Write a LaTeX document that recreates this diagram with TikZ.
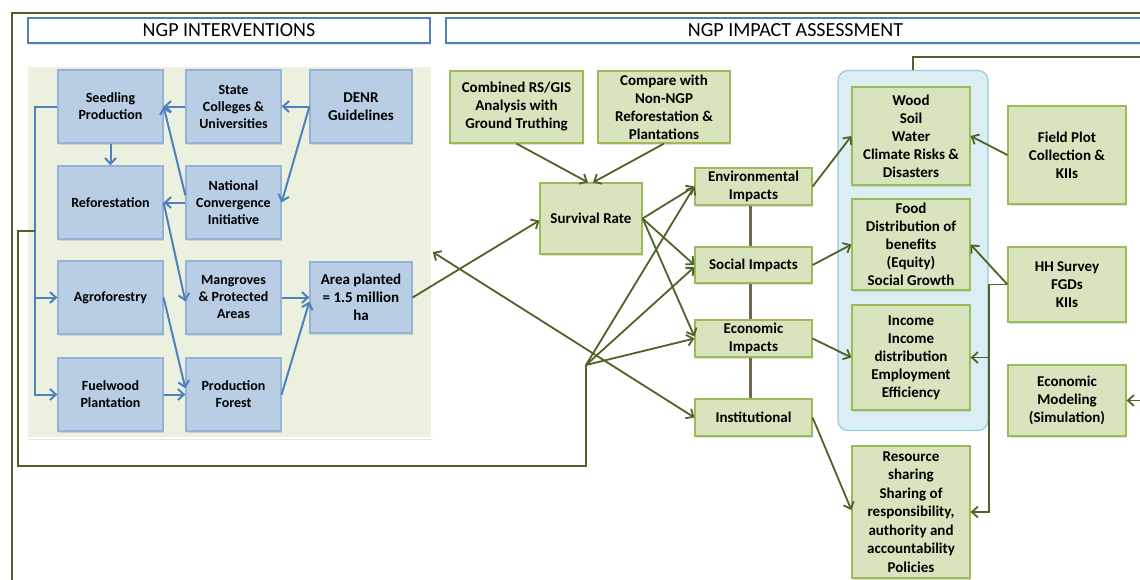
\documentclass[tikz,border=0pt]{standalone}
\usepackage{fontspec}
\setmainfont{Carlito}
\usetikzlibrary{arrows.meta,shadows,positioning}
\definecolor{oliveline}{HTML}{4F6228}
\definecolor{lineblue}{HTML}{4F81BD}
\definecolor{boxblue}{HTML}{95B3D7}
\definecolor{fillblue}{HTML}{B9CDE5}
\definecolor{boxgreen}{HTML}{9BBB59}
\definecolor{fillgreen}{HTML}{D7E4BD}
\definecolor{fillpanel}{HTML}{EBF1DE}
\definecolor{boxcyan}{HTML}{93CDDD}
\definecolor{fillcyan}{HTML}{DAEEF3}
\definecolor{taupe}{HTML}{6F684E}

\begin{document}
\begin{tikzpicture}[x=1pt, y=-1pt,
                    blue_box/.style={rectangle, draw=boxblue, fill=fillblue, line width=1.2pt, align=center, inner sep=1pt, minimum height=73pt, font=\bfseries\fontsize{14}{17}\selectfont, drop shadow={shadow xshift=1pt, shadow yshift=-1.5pt, opacity=0.25}},
                    green_box/.style={rectangle, draw=boxgreen, fill=fillgreen, line width=1.2pt, align=center, inner sep=1pt, font=\bfseries\fontsize{15}{18}\selectfont, drop shadow={shadow xshift=1pt, shadow yshift=-1.5pt, opacity=0.25}},
                    title_box/.style={rectangle, draw=lineblue, fill=white, line width=1.2pt, minimum height=25pt, inner sep=0pt, font=\fontsize{20}{24}\selectfont, drop shadow={shadow xshift=1pt, shadow yshift=-1.5pt, opacity=0.2}},
                    blue_arrow/.style={draw=lineblue, line width=2pt, -{Straight Barb[length=6pt,width=11pt]}},
                    green_arrow/.style={draw=oliveline, line width=1.8pt, -{Straight Barb[length=6pt,width=11pt]}},
                    green_both/.style={draw=oliveline, line width=1.8pt, {Straight Barb[length=6pt,width=11pt]}-{Straight Barb[length=6pt,width=11pt]}},
                    green_line/.style={draw=oliveline, line width=1.8pt},
                    link_line/.style={draw=taupe, line width=3pt}
                ]
    \clip (0,0) rectangle (1140,579);
    \fill[white] (0,0) rectangle (1140,579);

    \coordinate (ftr) at (1145,13);
    \coordinate (ftl) at (12,13);
    \coordinate (fbl) at (12,585);
    \draw[green_line] (ftr) -- (ftl) -- (fbl);

    \node[title_box, minimum width=402pt] (ngpint) at (229,30.5) {NGP INTERVENTIONS};
    \node[title_box, minimum width=699pt] (ngpimp) at (795.5,30.5) {NGP IMPACT ASSESSMENT};

    \node[rectangle, draw=white, fill=fillpanel, line width=1.5pt, minimum width=405pt, minimum height=372pt, drop shadow={shadow xshift=0.5pt, shadow yshift=-1.5pt, opacity=0.2}] (panel) at (229.5,252) {};
    \node[rectangle, rounded corners=10pt, draw=boxcyan, fill=fillcyan, line width=1.2pt, minimum width=150pt, minimum height=360pt] (outbox) at (913,250.5) {};

    \node[blue_box, minimum width=105pt] (seed) at (110.5,106.5) {Seedling\\Production};
    \node[blue_box, minimum width=95pt] (colleges) at (233.5,106.5) {State\\Colleges \&\\Universities};
    \node[blue_box, minimum width=102pt, font=\bfseries\fontsize{15}{18}\selectfont] (denr) at (361,106.5) {DENR\\Guidelines};
    \node[blue_box, minimum width=105pt] (refor) at (110.5,202.5) {Reforestation};
    \node[blue_box, minimum width=95pt] (ncon) at (233.5,202.5) {National\\Convergence\\Initiative};
    \node[blue_box, minimum width=105pt] (agro) at (110.5,297.5) {Agroforestry};
    \node[blue_box, minimum width=95pt] (mangr) at (233.5,297.5) {Mangroves\\\& Protected\\Areas};
    \node[blue_box, minimum width=102pt, minimum height=71pt, font=\bfseries\fontsize{15}{18}\selectfont] (area) at (361,297.5) {Area planted\\= 1.5 million\\ha};
    \node[blue_box, minimum width=105pt] (fuel) at (110.5,394.5) {Fuelwood\\Plantation};
    \node[blue_box, minimum width=95pt] (prod) at (233.5,394.5) {Production\\Forest};

    \node[green_box, minimum width=133pt, minimum height=72pt] (rsgis) at (516.5,107) {Combined RS/GIS\\Analysis with\\Ground Truthing};
    \node[green_box, minimum width=132pt, minimum height=72pt] (compare) at (664,107) {Compare with\\Non-NGP\\Reforestation \&\\Plantations};
    \node[green_box, minimum width=102pt, minimum height=71pt] (survival) at (591,218.5) {Survival Rate};
    \node[green_box, minimum width=117pt, minimum height=37pt] (env) at (753.5,186.5) {Environmental\\Impacts};
    \node[green_box, minimum width=117pt, minimum height=36pt] (social) at (753.5,265) {Social Impacts};
    \node[green_box, minimum width=117pt, minimum height=37pt] (econ) at (753.5,338.5) {Economic\\Impacts};
    \node[green_box, minimum width=117pt, minimum height=37pt] (inst) at (753.5,417.5) {Institutional};

    \node[green_box, minimum width=118pt, minimum height=98pt] (wood) at (911,136) {Wood\\Soil\\Water\\Climate Risks \&\\Disasters};
    \node[green_box, minimum width=118pt, minimum height=91pt] (food) at (911,244.5) {Food\\Distribution of\\benefits\\(Equity)\\Social Growth};
    \node[green_box, minimum width=118pt, minimum height=105pt] (income) at (911,357.5) {Income\\Income\\distribution\\Employment\\Efficiency};
    \node[green_box, minimum width=118pt, minimum height=132pt, font=\bfseries\fontsize{15}{18.5}\selectfont] (resource) at (911,512) {Resource\\sharing\\Sharing of\\responsibility,\\authority and\\accountability\\Policies};
    \node[green_box, minimum width=118pt, minimum height=98pt] (field) at (1067,155) {Field Plot\\Collection \&\\KIIs};
    \node[green_box, minimum width=118pt, minimum height=75pt] (hh) at (1067,284.5) {HH Survey\\FGDs\\KIIs};
    \node[green_box, minimum width=118pt, minimum height=71pt] (model) at (1067,400.5) {Economic\\Modeling\\(Simulation)};

    \coordinate (lbus) at (35,106.5);
    \coordinate (tap) at (35,231);
    \coordinate (loopl) at (18,466);
    \coordinate (hub) at (586,365);
    \coordinate (rbus) at (989,284.5);
    \coordinate (rtop) at (1145,57);
    \coordinate (rmod) at (1145,400.5);

    \draw[blue_arrow] (colleges.west) -- (seed.east);
    \draw[blue_arrow] (denr.west) -- (colleges.east);
    \draw[blue_arrow] (denr.west) -- (ncon.east);
    \draw[blue_arrow] (seed.south) -- (refor.north);
    \draw[blue_arrow] (ncon.west) -- (refor.east);
    \draw[blue_arrow] ([yshift=7pt]ncon.west) -- (seed.east);
    \draw[blue_arrow] (refor.east) -- ([yshift=-4pt]mangr.west);
    \draw[blue_arrow] (agro.east) -- ([yshift=6pt]prod.west);
    \draw[blue_arrow] (fuel.east) -- (prod.west);
    \draw[blue_arrow] (mangr.east) -- (area.west);
    \draw[blue_arrow] (prod.east) -- ([yshift=-4pt]area.west);
    \draw[blue_arrow] (seed.west) -- (lbus) |- (fuel.west);
    \draw[blue_arrow] (lbus |- agro.west) -- (agro.west);

    \draw[green_line] (tap) -- (loopl |- tap) -- (loopl) -| (hub);
    \draw[green_arrow] (rsgis.south) -- ([xshift=-3pt]survival.north);
    \draw[green_arrow] (compare.south) -- ([xshift=2pt]survival.north);
    \draw[green_arrow] (area.east) -- ([yshift=-2pt]survival.west);
    \draw[green_arrow] (survival.east) -- (env.west);
    \draw[green_arrow] (survival.east) -- (social.west);
    \draw[green_arrow] (survival.east) -- ([yshift=2pt]econ.west);
    \draw[green_arrow] (hub) -- (env.west);
    \draw[green_arrow] (hub) -- ([yshift=-2pt]social.west);
    \draw[green_arrow] (hub) -- (econ.west);
    \draw[green_both] (panel.east) -- (inst.west);

    \draw[link_line] ([xshift=-3pt]env.south) -- ([xshift=-3pt]social.north);
    \draw[link_line] ([xshift=-3pt]social.south) -- ([xshift=-3pt]econ.north);
    \draw[link_line] ([xshift=-3pt]econ.south) -- ([xshift=-3pt]inst.north);

    \draw[green_arrow] (env.east) -- (wood.west);
    \draw[green_arrow] (social.east) -- (food.west);
    \draw[green_arrow] (econ.east) -- (income.west);
    \draw[green_arrow] (inst.east) -- ([yshift=2pt]resource.west);
    \draw[green_arrow] (field.west) -- (wood.east);
    \draw[green_arrow] (hh.west) -- (food.east);
    \draw[green_arrow] (hh.west) -- (rbus) |- (resource.east);
    \draw[green_arrow] (rbus |- income.east) -- (income.east);
    \draw[green_line] (outbox.north) |- (rtop);
    \draw[green_arrow] (rmod) -- (model.east);
\end{tikzpicture}
\end{document}
